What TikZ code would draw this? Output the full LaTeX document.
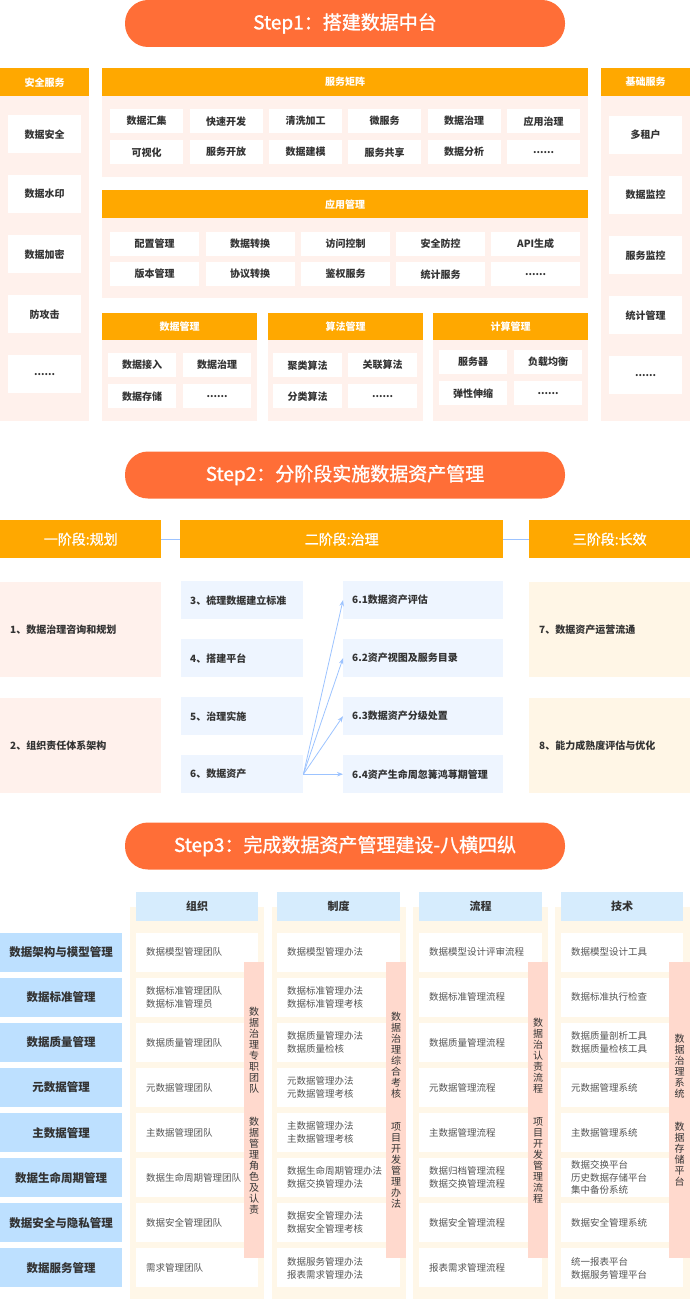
\documentclass[tikz,border=0pt]{standalone}
\usepackage{fontspec}
\setmainfont{Noto Sans CJK SC}
\newfontfamily\medfont[FakeBold=1.2]{Noto Sans CJK SC}
\usetikzlibrary{arrows.meta}
\definecolor{stepor}{HTML}{FF6E37}
\definecolor{hdror}{HTML}{FFA800}
\definecolor{pinkbg}{HTML}{FFF1EC}
\definecolor{bluebg}{HTML}{EEF5FF}
\definecolor{creambg}{HTML}{FFF6E6}
\definecolor{arrowblue}{HTML}{9CC3FF}
\definecolor{rowblue}{HTML}{BDE0FF}
\definecolor{colblue}{HTML}{D6ECFD}
\definecolor{colbg}{HTML}{FFF7E8}
\definecolor{barsalmon}{HTML}{FFD9CD}
\definecolor{txtdark}{HTML}{333333}
\definecolor{txtcell}{HTML}{555555}
\newcommand\mb[7]{\node[#6,minimum width=#4pt,minimum height=#5pt] (#1) at (#2,#3) {#7};}
\newcommand\lb[7]{\node[#5,minimum height=#4pt,text width=#6pt] (#1) at (#2,#3) {#7};}
\tikzset{
  pill/.style={fill=stepor,rounded corners=23pt,minimum width=440pt,minimum height=47pt,text=white,font=\medfont\fontsize{19}{22}\selectfont,inner sep=0pt},
  hdr/.style={fill=hdror,text=white,font=\bfseries\fontsize{10}{12}\selectfont,inner sep=0pt,anchor=north west},
  bodybg/.style={fill=pinkbg,inner sep=0pt,anchor=north west},
  wbox/.style={fill=white,text=txtdark,font=\bfseries\fontsize{10}{12}\selectfont,inner sep=0pt,anchor=north west},
  phdr/.style={fill=hdror,text=white,font=\medfont\fontsize{14}{16}\selectfont,inner sep=0pt,anchor=north west},
  pbox/.style={fill=pinkbg,text=txtdark,font=\bfseries\fontsize{10}{12}\selectfont,inner ysep=0pt,inner xsep=10pt,align=left,anchor=north west},
  bbox/.style={fill=bluebg,text=txtdark,font=\bfseries\fontsize{10}{12}\selectfont,inner ysep=0pt,inner xsep=9pt,align=left,anchor=north west},
  cbox/.style={fill=creambg,text=txtdark,font=\bfseries\fontsize{10}{12}\selectfont,inner ysep=0pt,inner xsep=10pt,align=left,anchor=north west},
  conn/.style={draw=arrowblue,line width=0.8pt},
  colbgs/.style={fill=colbg,inner sep=0pt,anchor=north west},
  colhdr/.style={fill=colblue,text=txtdark,font=\bfseries\fontsize{11}{13}\selectfont,inner sep=0pt,anchor=north west},
  rowlbl/.style={fill=rowblue,text=txtdark,font=\bfseries\fontsize{11.5}{13}\selectfont,inner sep=0pt,anchor=north west},
  cell/.style={fill=white,text=txtcell,font=\fontsize{9.5}{13}\selectfont,inner ysep=0pt,inner xsep=10pt,align=left,anchor=north west},
  vbar/.style={fill=barsalmon,text=txtdark,font=\fontsize{10}{11}\selectfont,inner sep=0pt,align=center,anchor=north west}
}
\begin{document}
\begin{tikzpicture}[x=1pt,y=-1pt]
\useasboundingbox (0,0) rectangle (690,1300);
%% ================= Step 1 =================
\node[pill] (s1) at (345,23.5) {Step1：搭建数据中台};
% left column
\mb{lh}{0}{68}{89}{28}{hdr}{安全服务}
\mb{lbody}{0}{96}{89}{325}{bodybg}{}
\mb{l1}{8}{115}{73}{38}{wbox}{数据安全}
\mb{l2}{8}{175}{73}{38}{wbox}{数据水印}
\mb{l3}{8}{235}{73}{38}{wbox}{数据加密}
\mb{l4}{8}{295}{73}{38}{wbox}{防攻击}
\mb{l5}{8}{355}{73}{38}{wbox}{......}
% right column
\mb{rh}{601}{68}{89}{28}{hdr}{基础服务}
\mb{rbody}{601}{96}{89}{325}{bodybg}{}
\mb{r1}{609}{116}{73}{38}{wbox}{多租户}
\mb{r2}{609}{176}{73}{38}{wbox}{数据监控}
\mb{r3}{609}{236}{73}{38}{wbox}{服务监控}
\mb{r4}{609}{296}{73}{38}{wbox}{统计管理}
\mb{r5}{609}{356}{73}{38}{wbox}{......}
% service matrix
\mb{mh}{102}{68}{486}{28}{hdr}{服务矩阵}
\mb{mbody}{102}{96}{486}{81}{bodybg}{}
\mb{m1}{110}{109}{73}{24}{wbox}{数据汇集}
\mb{m2}{189.5}{109}{73}{24}{wbox}{快速开发}
\mb{m3}{269}{109}{73}{24}{wbox}{清洗加工}
\mb{m4}{348}{109}{73}{24}{wbox}{微服务}
\mb{m5}{427.5}{109}{73}{24}{wbox}{数据治理}
\mb{m6}{507}{109}{73}{24}{wbox}{应用治理}
\mb{m7}{110}{140}{73}{24}{wbox}{可视化}
\mb{m8}{189.5}{140}{73}{24}{wbox}{服务开放}
\mb{m9}{269}{140}{73}{24}{wbox}{数据建模}
\mb{m10}{348}{140}{73}{24}{wbox}{服务共享}
\mb{m11}{427.5}{140}{73}{24}{wbox}{数据分析}
\mb{m12}{507}{140}{73}{24}{wbox}{......}
% application management
\mb{ah}{102}{190}{486}{28}{hdr}{应用管理}
\mb{abody}{102}{218}{486}{80}{bodybg}{}
\mb{a1}{110}{231.5}{89}{24}{wbox}{配置管理}
\mb{a2}{205.5}{231.5}{89}{24}{wbox}{数据转换}
\mb{a3}{301}{231.5}{89}{24}{wbox}{访问控制}
\mb{a4}{396}{231.5}{89}{24}{wbox}{安全防控}
\mb{a5}{491}{231.5}{89}{24}{wbox}{API生成}
\mb{a6}{110}{262}{89}{24}{wbox}{版本管理}
\mb{a7}{205.5}{262}{89}{24}{wbox}{协议转换}
\mb{a8}{301}{262}{89}{24}{wbox}{鉴权服务}
\mb{a9}{396}{262}{89}{24}{wbox}{统计服务}
\mb{a10}{491}{262}{89}{24}{wbox}{......}
% data management
\mb{dh}{102}{313}{155}{27}{hdr}{数据管理}
\mb{dbody}{102}{340}{155}{81}{bodybg}{}
\mb{d1}{108}{353}{68}{24}{wbox}{数据接入}
\mb{d2}{183}{353}{68}{24}{wbox}{数据治理}
\mb{d3}{108}{384}{68}{24}{wbox}{数据存储}
\mb{d4}{183}{384}{68}{24}{wbox}{......}
% algorithm management
\mb{gh}{268}{313}{155}{27}{hdr}{算法管理}
\mb{gbody}{268}{340}{155}{81}{bodybg}{}
\mb{g1}{273}{353}{69}{24}{wbox}{聚类算法}
\mb{g2}{348}{353}{69}{24}{wbox}{关联算法}
\mb{g3}{273}{384}{69}{24}{wbox}{分类算法}
\mb{g4}{348}{384}{69}{24}{wbox}{......}
% compute management
\mb{ch}{433}{313}{155}{27}{hdr}{计算管理}
\mb{cbody}{433}{340}{155}{81}{bodybg}{}
\mb{c1}{439}{350}{68}{24}{wbox}{服务器}
\mb{c2}{514}{350}{68}{24}{wbox}{负载均衡}
\mb{c3}{439}{381}{68}{24}{wbox}{弹性伸缩}
\mb{c4}{514}{381}{68}{24}{wbox}{......}
%% ================= Step 2 =================
\node[pill] (s2) at (345,475) {Step2：分阶段实施数据资产管理};
\mb{ph1}{0}{520}{161}{38}{phdr}{一阶段:规划}
\mb{ph2}{180}{520}{323}{38}{phdr}{二阶段:治理}
\mb{ph3}{529}{520}{161}{38}{phdr}{三阶段:长效}
\draw[conn] (ph1.east) -- (ph2.west);
\draw[conn] (ph2.east) -- (ph3.west);
\lb{p1}{0}{582}{95}{pbox}{141}{1、数据治理咨询和规划}
\lb{p2}{0}{698}{95}{pbox}{141}{2、组织责任体系架构}
\lb{b3}{181}{581}{38}{bbox}{104}{3、梳理数据建立标准}
\lb{b4}{181}{639}{38}{bbox}{104}{4、搭建平台}
\lb{b5}{181}{697}{38}{bbox}{104}{5、治理实施}
\lb{b6}{181}{755}{38}{bbox}{104}{6、数据资产}
\lb{e1}{343}{581}{38}{bbox}{142}{6.1数据资产评估}
\lb{e2}{343}{639}{38}{bbox}{142}{6.2资产视图及服务目录}
\lb{e3}{343}{697}{38}{bbox}{142}{6.3数据资产分级处置}
\lb{e4}{343}{755}{38}{bbox}{142}{6.4资产生命周忽篝鸿荨期管理}
\lb{q1}{529}{582}{95}{cbox}{141}{7、数据资产运营流通}
\lb{q2}{529}{698}{95}{cbox}{141}{8、能力成熟度评估与优化}
\foreach \t in {e1,e2,e3,e4}
  \draw[conn,-{Stealth[length=6pt,width=4.5pt]}] (b6.east) -- (\t.west);
%% ================= Step 3 =================
\node[pill] (s3) at (345,846) {Step3：完成数据资产管理建设-八横四纵};
\mb{k1}{130}{907}{134}{392}{colbgs}{}
\mb{k2}{272}{907}{134}{392}{colbgs}{}
\mb{k3}{413}{907}{135}{392}{colbgs}{}
\mb{k4}{555}{907}{135}{392}{colbgs}{}
\mb{h1}{136}{892}{122}{29}{colhdr}{组织}
\mb{h2}{277}{892}{123}{29}{colhdr}{制度}
\mb{h3}{419}{892}{123}{29}{colhdr}{流程}
\mb{h4}{561}{892}{122}{29}{colhdr}{技术}
% row labels
\mb{w1}{0}{932.5}{122}{39}{rowlbl}{数据架构与模型管理}
\mb{w2}{0}{977.6}{122}{39}{rowlbl}{数据标准管理}
\mb{w3}{0}{1022.7}{122}{39}{rowlbl}{数据质量管理}
\mb{w4}{0}{1067.8}{122}{39}{rowlbl}{元数据管理}
\mb{w5}{0}{1112.9}{122}{39}{rowlbl}{主数据管理}
\mb{w6}{0}{1158}{122}{39}{rowlbl}{数据生命周期管理}
\mb{w7}{0}{1203.1}{122}{39}{rowlbl}{数据安全与隐私管理}
\mb{w8}{0}{1248.2}{122}{39}{rowlbl}{数据服务管理}
% organisation cells
\lb{o1}{136}{932.5}{39}{cell}{102}{数据模型管理团队}
\lb{o2}{136}{977.6}{39}{cell}{102}{数据标准管理团队\\数据标准管理员}
\lb{o3}{136}{1022.7}{39}{cell}{102}{数据质量管理团队}
\lb{o4}{136}{1067.8}{39}{cell}{102}{元数据管理团队}
\lb{o5}{136}{1112.9}{39}{cell}{102}{主数据管理团队}
\lb{o6}{136}{1158}{39}{cell}{102}{数据生命周期管理团队}
\lb{o7}{136}{1203.1}{39}{cell}{102}{数据安全管理团队}
\lb{o8}{136}{1248.2}{39}{cell}{102}{需求管理团队}
% rules cells
\lb{z1}{277}{932.5}{39}{cell}{103}{数据模型管理办法}
\lb{z2}{277}{977.6}{39}{cell}{103}{数据标准管理办法\\数据标准管理考核}
\lb{z3}{277}{1022.7}{39}{cell}{103}{数据质量管理办法\\数据质量检核}
\lb{z4}{277}{1067.8}{39}{cell}{103}{元数据管理办法\\元数据管理考核}
\lb{z5}{277}{1112.9}{39}{cell}{103}{主数据管理办法\\主数据管理考核}
\lb{z6}{277}{1158}{39}{cell}{103}{数据生命周期管理办法\\数据交换管理办法}
\lb{z7}{277}{1203.1}{39}{cell}{103}{数据安全管理办法\\数据安全管理考核}
\lb{z8}{277}{1248.2}{39}{cell}{103}{数据服务管理办法\\报表需求管理办法}
% process cells
\lb{f1}{419}{932.5}{39}{cell}{103}{数据模型设计评审流程}
\lb{f2}{419}{977.6}{39}{cell}{103}{数据标准管理流程}
\lb{f3}{419}{1022.7}{39}{cell}{103}{数据质量管理流程}
\lb{f4}{419}{1067.8}{39}{cell}{103}{元数据管理流程}
\lb{f5}{419}{1112.9}{39}{cell}{103}{主数据管理流程}
\lb{f6}{419}{1158}{39}{cell}{103}{数据归档管理流程\\数据交换管理流程}
\lb{f7}{419}{1203.1}{39}{cell}{103}{数据安全管理流程}
\lb{f8}{419}{1248.2}{39}{cell}{103}{报表需求管理流程}
% technology cells
\lb{t1}{561}{932.5}{39}{cell}{102}{数据模型设计工具}
\lb{t2}{561}{977.6}{39}{cell}{102}{数据标准执行检查}
\lb{t3}{561}{1022.7}{39}{cell}{102}{数据质量剖析工具\\数据质量检核工具}
\lb{t4}{561}{1067.8}{39}{cell}{102}{元数据管理系统}
\lb{t5}{561}{1112.9}{39}{cell}{102}{主数据管理系统}
\lb{t6}{561}{1158}{39}{cell,font=\fontsize{9.5}{12.5}\selectfont}{102}{数据交换平台\\历史数据存储平台\\集中备份系统}
\lb{t7}{561}{1203.1}{39}{cell}{102}{数据安全管理系统}
\lb{t8}{561}{1248.2}{39}{cell}{102}{统一报表平台\\数据服务管理平台}
% vertical bars
\mb{v1}{244}{962}{20}{296}{vbar}{数\\据\\治\\理\\专\\职\\团\\队\\[22pt]数\\据\\管\\理\\角\\色\\及\\认\\责}
\mb{v2}{386}{962}{20}{296}{vbar}{数\\据\\治\\理\\综\\合\\考\\核\\[22pt]项\\目\\开\\发\\管\\理\\办\\法}
\mb{v3}{528}{962}{20}{296}{vbar}{数\\据\\治\\认\\责\\流\\程\\[22pt]项\\目\\开\\发\\管\\理\\流\\程}
\mb{v4}{669}{962}{21}{296}{vbar}{数\\据\\治\\理\\系\\统\\[22pt]数\\据\\存\\储\\平\\台}
\end{tikzpicture}
\end{document}
